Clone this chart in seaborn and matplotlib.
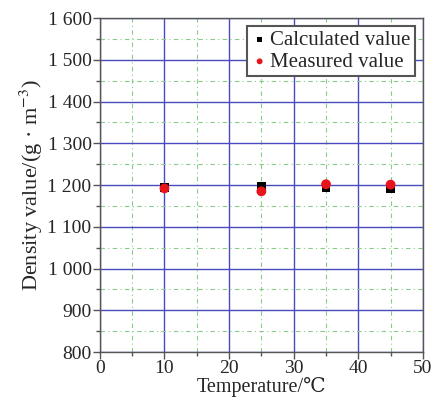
import numpy as np
import pandas as pd
import matplotlib
matplotlib.use("Agg")
import matplotlib.pyplot as plt
import seaborn as sns
from matplotlib.ticker import MultipleLocator, FuncFormatter

# values
temperature = [10, 25, 35, 45]
calculated = [1194, 1197, 1195, 1191]
measured = [1192, 1185, 1202, 1201]

y_ticks = [800, 900, 1000, 1100, 1200, 1300, 1400, 1500, 1600]
x_ticks = [0, 10, 20, 30, 40, 50]


def thousands(v, pos):
    v = int(round(v))
    if v >= 1000:
        return f"{v // 1000} {v % 1000:03d}"
    return str(v)


def main():
    sns.set_style("white")
    plt.rcParams['font.family'] = ['Liberation Serif', 'DejaVu Serif']
    plt.rcParams['mathtext.fontset'] = 'stix'

    df = pd.DataFrame({"Temperature": temperature,
                       "Calculated": calculated,
                       "Measured": measured})

    fig = plt.figure(figsize=(4.36, 4.01), dpi=100)
    ax = fig.add_axes([0.229, 0.122, 0.741, 0.833])

    sns.scatterplot(x="Temperature", y="Calculated", data=df, ax=ax,
                    marker="s", color="black", s=40, edgecolor="none",
                    label="Calculated value", zorder=3)
    sns.scatterplot(x="Temperature", y="Measured", data=df, ax=ax,
                    marker="o", color="#e8141c", s=50, edgecolor="none",
                    label="Measured value", zorder=4)

    ax.set_xlim(0, 50)
    ax.set_ylim(800, 1600)
    ax.set_xticks(x_ticks)
    ax.set_yticks(y_ticks)
    ax.xaxis.set_minor_locator(MultipleLocator(5))
    ax.yaxis.set_minor_locator(MultipleLocator(50))
    ax.yaxis.set_major_formatter(FuncFormatter(thousands))

    ax.grid(True, which="major", color="#4a4ac0", linewidth=1.0, linestyle="-")
    ax.grid(True, which="minor", color="#88cc88", linewidth=0.8,
            linestyle=(0, (4, 3, 1, 3)))
    ax.set_axisbelow(True)

    for side in ["left", "bottom", "top", "right"]:
        ax.spines[side].set_color("#555555")
        ax.spines[side].set_linewidth(1.0)

    ax.tick_params(which="major", direction="out", length=5, width=1,
                   color="#555555", labelsize=14, pad=1,
                   bottom=True, left=True, top=False, right=False)
    ax.tick_params(which="minor", direction="out", length=3, width=1,
                   color="#555555", bottom=True, left=True, top=False, right=False)

    ax.set_xlabel("Temperature/\u2103", fontsize=14.5, labelpad=0)
    ax.set_ylabel("Density value/(g \u00b7 m$^{-3}$)", fontsize=16, labelpad=2)

    leg = ax.legend(loc="upper right", fontsize=15, frameon=True, fancybox=False,
                    borderpad=0.2, handletextpad=0.1, handlelength=0.8,
                    labelspacing=0.1, borderaxespad=0.4, markerscale=0.6)
    leg.get_frame().set_edgecolor("#555555")
    leg.get_frame().set_linewidth(1.5)
    leg.get_frame().set_alpha(1)

    fig.savefig("out.png", dpi=100)


if __name__ == '__main__':
    main()
